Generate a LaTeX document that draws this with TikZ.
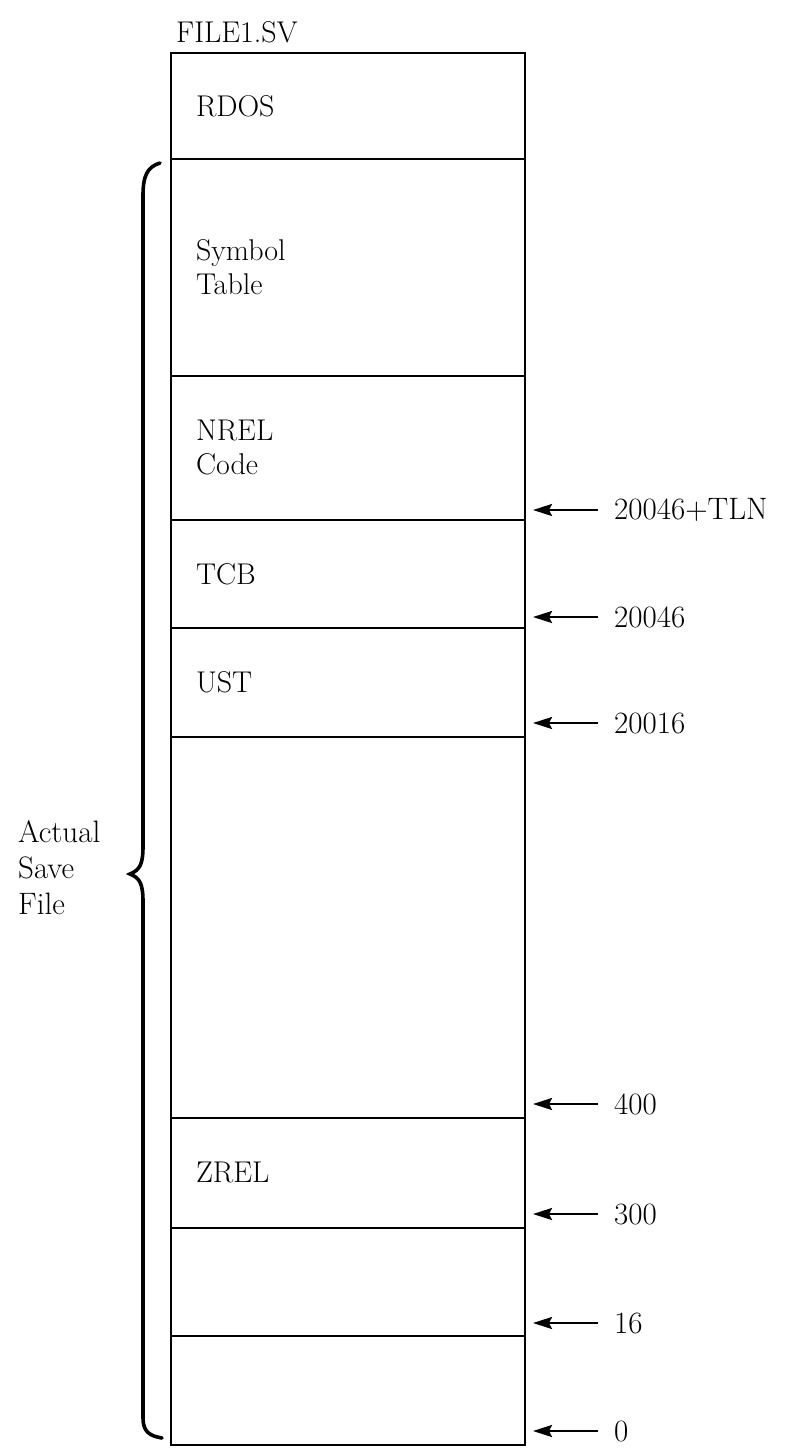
\documentclass[tikz,border=0pt]{standalone}
\usepackage{fontspec}
\usetikzlibrary{arrows.meta}

\tikzset{
  seg/.style={draw,line width=1.8pt,minimum width=354pt,text width=304pt,inner xsep=25pt,align=left,anchor=north},
  addr/.style={anchor=west,inner xsep=16pt,inner ysep=0pt,font=\fontsize{31}{34}\selectfont},
  ptr/.style={-{Stealth[length=19pt,width=12pt,inset=3pt]},line width=2.4pt},
}

\begin{document}
\begin{tikzpicture}[x=1pt,y=-1pt,font=\fontsize{30}{34}\selectfont]
  \useasboundingbox (0,0) rectangle (785,1448);
  \node[anchor=base west,inner sep=0pt] (title) at (176,42) {FILE1.SV};
  % memory segments, top to bottom
  \foreach \top/\hgt/\nm/\lab in {52/106/rdos/RDOS,158/217/symtab/{Symbol\\Table},375/144/nrel/{NREL\\Code},
      519/108/tcb/TCB,627/109/ust/UST,736/381/free/{},1117/110/zrel/ZREL,1227/108/low/{},1335/109/page0/{}} {
    \node[seg,minimum height=\hgt pt] (\nm) at (348,\top) {\lab};
  }
  % addresses
  \foreach \y/\lab/\nm in {510/20046+TLN/tln,617/20046/tcbtop,723/20016/usttop,1104/400/zreltop,
      1214/300/zrelbot,1323/16/lowtop,1431/0/zero} {
    \coordinate (tip\nm) at (533,\y);
    \node[addr] (adr\nm) at (598,\y) {\lab};
    \draw[ptr] (adr\nm.west) -- (tip\nm);
  }
  \node[anchor=west,align=left,inner sep=0pt,font=\fontsize{31}{36}\selectfont] (side) at (18,868) {Actual\\Save\\File};
  \draw[line width=3.6pt,line cap=round] (160,163) .. controls (147,167) and (143,176) .. (143,196) -- (143,846)
    .. controls (143,864) and (140,870) .. (130,874) .. controls (140,878) and (143,884) .. (143,902) -- (143,1418)
    .. controls (143,1432) and (150,1436) .. (162,1438);
\end{tikzpicture}
\end{document}
